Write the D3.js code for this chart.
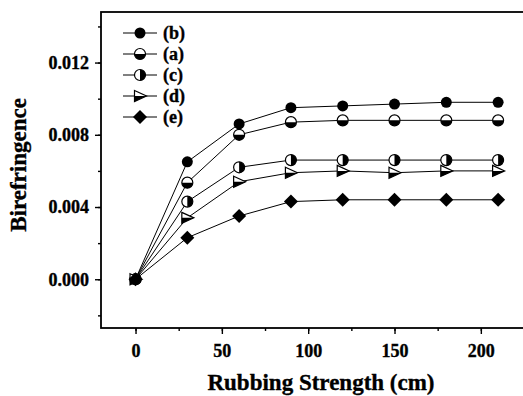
<!DOCTYPE html>
<html>
<head>
<meta charset="utf-8">
<script src="https://cdn.jsdelivr.net/npm/d3@7"></script>
<style>
  body { margin: 0; background: #fff; }
  svg text { font-family: "Liberation Serif", "Times New Roman", serif; font-weight: bold; fill: #000; stroke: #000; stroke-width: 0.35px; }
</style>
</head>
<body>
<svg id="chart" width="523" height="396"></svg>
<script>
// Rubbing strength (cm)
const strength = [0, 30, 60, 90, 120, 150, 180, 210];

// Birefringence per sample
const seriesB = [0, 0.0065, 0.0086, 0.0095, 0.0096, 0.0097, 0.0098, 0.0098];
const seriesA = [0, 0.00535, 0.0080, 0.0087, 0.0088, 0.0088, 0.0088, 0.0088];
const seriesC = [0, 0.0043, 0.0062, 0.0066, 0.0066, 0.0066, 0.0066, 0.0066];
const seriesD = [0, 0.0034, 0.0054, 0.0059, 0.0060, 0.0059, 0.0060, 0.0060];
const seriesE = [0, 0.0023, 0.0035, 0.0043, 0.0044, 0.0044, 0.0044, 0.0044];

const legendLabels = ['(b)', '(a)', '(c)', '(d)', '(e)'];
const markerKinds = ['filled', 'halfBottom', 'halfRight', 'triangle', 'diamond'];
const xTicks = [0, 50, 100, 150, 200];
const yTicks = [0, 0.004, 0.008, 0.012];

const series = [seriesB, seriesA, seriesC, seriesD, seriesE];

const svg = d3.select('#chart');
const plotLeft = 101, plotRight = 524, plotTop = 12, plotBottom = 328;

const x = d3.scaleLinear().domain([-20, 225]).range([plotLeft, plotRight]);
const y = d3.scaleLinear().domain([-0.0027, 0.0148]).range([plotBottom, plotTop]);

// Frame
svg.append('rect')
    .attr('x', plotLeft).attr('y', plotTop)
    .attr('width', plotRight - plotLeft).attr('height', plotBottom - plotTop)
    .attr('fill', 'none').attr('stroke', '#000').attr('stroke-width', 1.8);

// X axis
const xAxis = svg.append('g').attr('transform', `translate(0,${plotBottom})`);
xAxis.call(d3.axisBottom(x).tickValues(d3.range(0, 225, 25)).tickSize(3).tickFormat(''))
    .call(g => g.select('.domain').remove());
xAxis.append('g')
    .call(d3.axisBottom(x).tickValues(xTicks).tickSize(6).tickPadding(10).tickFormat(d3.format('d')))
    .call(g => g.select('.domain').remove())
    .call(g => g.selectAll('text').style('font-size', '18px').attr('fill', '#000'));
xAxis.selectAll('line').attr('stroke', '#000').attr('stroke-width', 1.4);

// Y axis
const yAxis = svg.append('g').attr('transform', `translate(${plotLeft},0)`);
yAxis.call(d3.axisLeft(y).tickValues(d3.range(-0.002, 0.0145, 0.002)).tickSize(3).tickFormat(''))
    .call(g => g.select('.domain').remove());
yAxis.append('g')
    .call(d3.axisLeft(y).tickValues(yTicks).tickSize(6).tickPadding(6).tickFormat(d3.format('.3f')))
    .call(g => g.select('.domain').remove())
    .call(g => g.selectAll('text').style('font-size', '18px').attr('fill', '#000'));
yAxis.selectAll('line').attr('stroke', '#000').attr('stroke-width', 1.4);

// Axis titles
svg.append('text')
    .attr('x', 321).attr('y', 390)
    .attr('text-anchor', 'middle')
    .style('font-size', '23px')
    .text('Rubbing Strength (cm)');

svg.append('text')
    .attr('transform', 'translate(26,165) rotate(-90)')
    .attr('text-anchor', 'middle')
    .style('font-size', '23px')
    .text('Birefringence');

// Marker drawing
function drawMarker(sel, kind) {
    const r = 5.5;
    if (kind === 'filled') {
        sel.append('circle').attr('r', r).attr('fill', '#000');
    } else if (kind === 'halfBottom') {
        sel.append('circle').attr('r', r).attr('fill', '#fff').attr('stroke', '#000').attr('stroke-width', 1.2);
        sel.append('path').attr('d', `M${-r},0A${r},${r} 0 0 0 ${r},0Z`).attr('fill', '#000');
    } else if (kind === 'halfRight') {
        sel.append('circle').attr('r', r).attr('fill', '#fff').attr('stroke', '#000').attr('stroke-width', 1.2);
        sel.append('path').attr('d', `M0,${-r}A${r},${r} 0 0 1 0,${r}Z`).attr('fill', '#000');
    } else if (kind === 'triangle') {
        sel.append('path').attr('d', `M${-r},${-r}L${r + 1},0L${-r},${r}Z`)
            .attr('fill', '#fff').attr('stroke', '#000').attr('stroke-width', 1.2);
        sel.append('path').attr('d', `M${-r},0L${r + 1},0L${-r},${r}Z`).attr('fill', '#000');
    } else if (kind === 'diamond') {
        sel.append('path').attr('d', `M0,-7L7,0L0,7L-7,0Z`).attr('fill', '#000');
    }
}

const line = d3.line()
    .x((d, i) => x(strength[i]))
    .y(d => y(d));

// Lines first, then markers on top
series.forEach(values => {
    svg.append('path')
        .datum(values)
        .attr('d', line)
        .attr('fill', 'none')
        .attr('stroke', '#000')
        .attr('stroke-width', 1);
});

series.forEach((values, k) => {
    svg.append('g')
        .selectAll('g')
        .data(values)
        .enter().append('g')
        .attr('transform', (d, i) => `translate(${x(strength[i])},${y(d)})`)
        .each(function() { drawMarker(d3.select(this), markerKinds[k]); });
});

// Legend
const legend = svg.append('g');
legendLabels.forEach((label, k) => {
    const ly = 33 + k * 21;
    const row = legend.append('g').attr('transform', `translate(140,${ly})`);
    row.append('line').attr('x1', -17).attr('x2', 17).attr('stroke', '#000').attr('stroke-width', 1);
    drawMarker(row, markerKinds[k]);
    row.append('text')
        .attr('x', 23).attr('y', 6)
        .style('font-size', '18px')
        .text(label);
});
</script>
</body>
</html>
